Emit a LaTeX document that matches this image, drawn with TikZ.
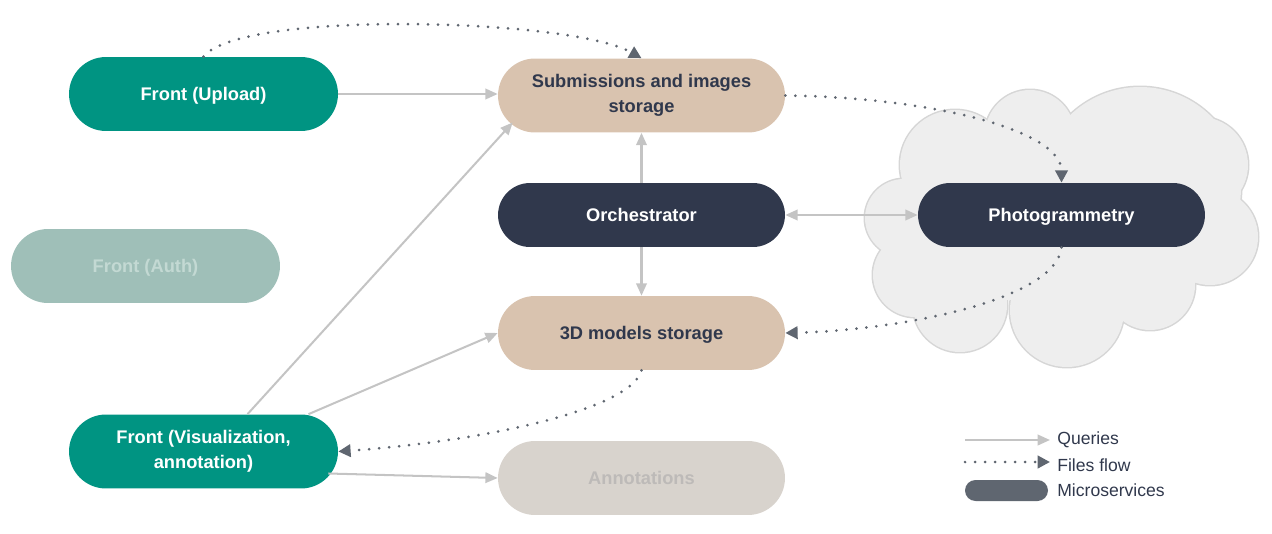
\documentclass[tikz,border=0pt]{standalone}
\usepackage{fontspec}
\setmainfont{Liberation Sans}
\usetikzlibrary{arrows.meta,calc}
\definecolor{cteal}{HTML}{009482}
\definecolor{cnavy}{HTML}{30384C}
\definecolor{cbeige}{HTML}{D9C3AF}
\definecolor{cauth}{HTML}{9FBFB8}
\definecolor{cauthtxt}{HTML}{C3D9D3}
\definecolor{cann}{HTML}{D8D3CD}
\definecolor{canntxt}{HTML}{BDBAB8}
\definecolor{cquery}{HTML}{C4C4C4}
\definecolor{cfile}{HTML}{5F6670}
\definecolor{ccloud}{HTML}{EEEEEE}
\definecolor{ccloudline}{HTML}{D6D6D6}
\begin{document}
\begin{tikzpicture}[x=0.02cm,y=-0.02cm,
  pill/.style={rectangle, inner sep=0pt, align=center,
    minimum width=5.74cm, minimum height=1.48cm, rounded corners=0.74cm,
    font=\bfseries\fontsize{10.4}{14.2}\selectfont},
  oneline/.style={text height=7.6pt, text depth=0pt},
  frontpill/.style={pill, minimum width=5.38cm, fill=cteal, text=white},
  storepill/.style={pill, fill=cbeige, text=cnavy},
  svcpill/.style={pill, oneline, minimum height=1.28cm, rounded corners=0.64cm, fill=cnavy, text=white},
  query/.style={draw=cquery, line width=1.15pt, -{Triangle[length=7pt,width=6pt]}},
  files/.style={draw=cfile, line width=1.7pt, line cap=round, dash pattern=on 0pt off 5.7pt,
    -{Triangle[length=7pt,width=7pt,fill=cfile]}},
  legtxt/.style={anchor=west, inner sep=0pt, text=cnavy, font=\fontsize{10}{12}\selectfont}
]
\useasboundingbox (0,0) rectangle (1272,534);

% cloud
\def\cloudlist{904/218/39, 955/165/55, 1030/135/45, 1140/188/101, 1200/165/48,
  1210/237/48, 1150/285/45, 1067/310/57, 960/305/47, 915/275/42}
\foreach \cx/\cy/\cr in \cloudlist {
  \draw[ccloudline, line width=1.7pt] (\cx,\cy) circle[radius=\cr*0.02cm];
}
\foreach \cx/\cy/\cr in \cloudlist {
  \fill[ccloud] (\cx,\cy) circle[radius=\cr*0.02cm];
}
\fill[ccloud] (930,170) rectangle (1180,300);

% nodes
\node[frontpill, oneline] (fup) at (203.5,94) {Front (Upload)};
\node[storepill] (subm) at (641.5,95.5) {Submissions and images\\storage};
\node[svcpill] (orch) at (641.5,215) {Orchestrator};
\node[svcpill] (photo) at (1061.5,215) {Photogrammetry};
\node[pill, oneline, minimum width=5.38cm, fill=cauth, text=cauthtxt] (fauth) at (145.5,266) {Front (Auth)};
\node[storepill, oneline] (models) at (641.5,333) {3D models storage};
\node[frontpill] (fvis) at (203.5,451.5) {Front (Visualization,\\annotation)};
\node[pill, oneline, fill=cann, text=canntxt] (ann) at (641.5,478) {Annotations};

% queries
\draw[query] (fup.east) -- ($(subm.west)+(0,-1.5)$);
\draw[query] ($(fvis.north)+(44,0)$) -- ($(subm.west)+(15,27)$);
\draw[query] ($(fvis.north)+(105,0)$) -- (models.west);
\draw[query] ($(fvis.east)+(-10,22)$) -- (ann.west);
\draw[query] (orch.north) -- (subm.south);
\draw[query] (orch.south) -- (models.north);
\draw[query, {Triangle[length=7pt,width=6pt]}-{Triangle[length=7pt,width=6pt]}] (orch.east) -- (photo.west);

% files
\draw[files] (fup.north) .. controls +(37,-47) and +(-70,-40) .. (subm.north);
\draw[files] (subm.east) .. controls +(145,2) and +(0,-53) .. (photo.north);
\draw[files] (photo.south) .. controls +(-6,53) and +(115,-3) .. (models.east);
\draw[files] (models.south) .. controls +(-11,40) and +(142,-10) .. (fvis.east);

% legend
\coordinate (lq1) at (965,440);
\coordinate (lq2) at (1050,440);
\coordinate (lf1) at (965,462);
\coordinate (lf2) at (1050,462);
\draw[query] (lq1) -- (lq2);
\draw[files] (lf1) -- (lf2);
\node[rectangle, fill=cfile, minimum width=1.66cm, minimum height=0.42cm, rounded corners=0.21cm, inner sep=0pt] (lm) at (1006.5,490.5) {};
\node[legtxt] (tq) at (1057,440) {Queries};
\node[legtxt] (tf) at (1057,465) {Files flow};
\node[legtxt] (tm) at (1057,490.5) {Microservices};
\end{tikzpicture}
\end{document}
